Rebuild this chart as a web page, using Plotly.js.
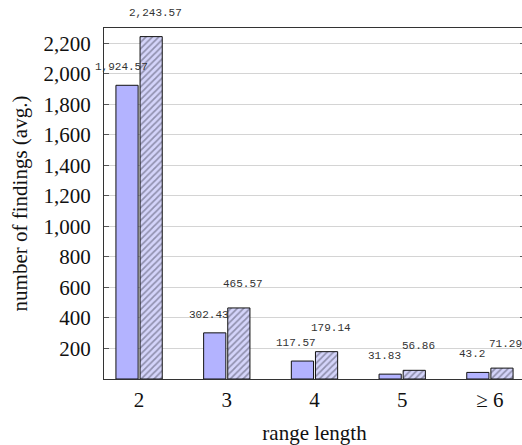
<!DOCTYPE html>
<html>
<head>
<meta charset="utf-8">
<script src="https://cdn.plot.ly/plotly-3.0.1.min.js"></script>
<style>
html,body{margin:0;padding:0;overflow:hidden;background:#fff;}
#chart{width:525px;height:445px;}
</style>
</head>
<body>
<div id="chart"></div>
<script>
const categories = ['2', '3', '4', '5', '\u2265 6'];
const seriesA = [1924.57, 302.43, 117.57, 31.83, 43.2];
const seriesB = [2243.57, 465.57, 179.14, 56.86, 71.29];
const yTickVals = [200, 400, 600, 800, 1000, 1200, 1400, 1600, 1800, 2000, 2200];

const serif = '"Liberation Serif", "Times New Roman", serif';
const mono = '"Liberation Mono", "DejaVu Sans Mono", monospace';

const bargap = 0.45;
const slot = (1 - bargap) / 2;

const traces = [
  {
    type: 'bar', x: categories, y: seriesA, name: 'A',
    marker: {color: '#b3b3ff', line: {color: '#111', width: 1}},
    hoverinfo: 'none'
  },
  {
    type: 'bar', x: categories, y: seriesB, name: 'B',
    marker: {
      color: '#d2d2f8',
      line: {color: '#111', width: 1},
      pattern: {shape: '/', size: 4.5, solidity: 0.38, fgcolor: '#4a4a60', bgcolor: '#d4d4fa', fillmode: 'overlay'}
    },
    hoverinfo: 'none'
  }
];

const annotations = [];
seriesA.forEach((v, i) => annotations.push({
  x: i - slot / 2, y: v, xref: 'x', yref: 'y', text: v.toLocaleString('en-US'),
  showarrow: false, xshift: -6, yshift: 18, font: {family: mono, size: 11, color: '#333'}
}));
seriesB.forEach((v, i) => annotations.push({
  x: i + slot / 2, y: v, xref: 'x', yref: 'y', text: v.toLocaleString('en-US'),
  showarrow: false, xshift: 4, yshift: 24, font: {family: mono, size: 11, color: '#333'}
}));

const layout = {
  width: 525, height: 445,
  margin: {l: 104, r: 0, t: 28, b: 66},
  paper_bgcolor: '#fff', plot_bgcolor: '#fff',
  showlegend: false,
  barmode: 'group', bargap: bargap, bargroupgap: 0.08,
  font: {family: serif, color: '#111'},
  xaxis: {
    type: 'category', range: [-0.4, 4.4],
    showgrid: false, ticks: '', showline: true, linecolor: '#333', linewidth: 1, mirror: true,
    tickfont: {family: serif, size: 21, color: '#111'},
    ticklabelstandoff: 2,
    title: {text: 'range length', font: {family: serif, size: 21, color: '#111'}, standoff: 14}
  },
  yaxis: {
    range: [0, 2300], tickvals: yTickVals,
    ticktext: yTickVals.map(v => v.toLocaleString('en-US')),
    showgrid: true, gridcolor: '#d4d4d4', gridwidth: 1,
    zeroline: false,
    ticks: 'inside', ticklen: 5, tickcolor: '#555', tickwidth: 1,
    showline: true, linecolor: '#333', linewidth: 1, mirror: 'ticks',
    tickfont: {family: serif, size: 21, color: '#111'},
    ticklabelstandoff: 8,
    title: {text: 'number of findings (avg.)', font: {family: serif, size: 21, color: '#111'}, standoff: 10}
  },
  annotations: annotations
};

Plotly.newPlot('chart', traces, layout, {displayModeBar: false, staticPlot: true});
</script>
</body>
</html>
